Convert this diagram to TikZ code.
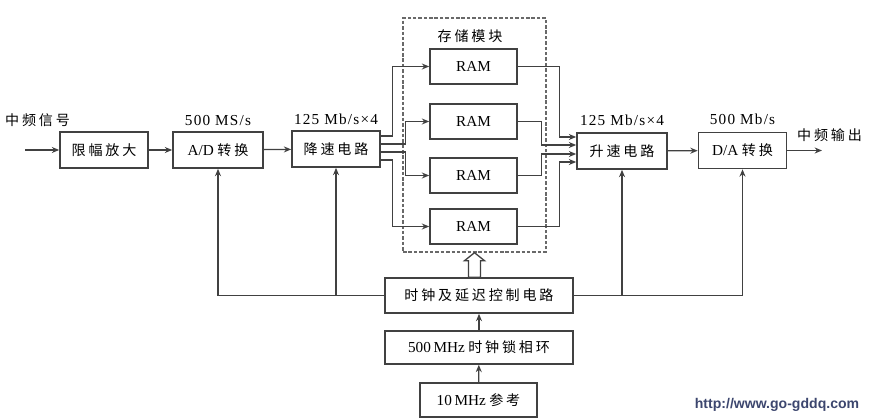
\documentclass[tikz,border=0pt]{standalone}
\usepackage{fontspec}
\setmainfont{Liberation Serif}
\newfontfamily\zh[LetterSpace=20]{Noto Sans CJK SC}
\newfontfamily\spaced[LetterSpace=8]{Liberation Serif}
\newfontfamily\urlfont{Liberation Sans}
\usepackage{tikz}
\usetikzlibrary{positioning, arrows.meta, calc}
\definecolor{linegray}{RGB}{65,65,65}
\definecolor{dashgray}{RGB}{105,105,105}
\definecolor{urlblue}{RGB}{60,70,110}
\newcommand\diagfont{\fontsize{12}{14}\selectfont}
\tikzset{
  wire/.style={draw=linegray, line width=1.1pt},
  sig/.style={wire, -{Stealth[length=2.2mm,width=1.8mm]}},
  rate/.style={font=\spaced\fontsize{13}{15}\selectfont, inner sep=1pt},
  tag/.style={font=\diagfont\zh, inner sep=1pt},
}

\begin{document}
\begin{tikzpicture}[x=0.3mm, y=-0.3mm,
  block/.style={draw=linegray, line width=1.4pt, fill=white, minimum width=26.4mm, minimum height=10.8mm, inner sep=0pt, font=\diagfont},
  ram/.style={block, minimum width=26.1mm, minimum height=10.5mm, font=\fontsize{13}{15}\selectfont},
  >=Stealth
]
  \useasboundingbox (0,0) rectangle (871,420);
  % memory module
  \node[draw=dashgray, line width=1.2pt, dash pattern=on 3pt off 1.6pt, minimum width=42.9mm, minimum height=70.2mm] (mem) at (474.5,135) {};
  \node[tag] (memlbl) at (470,36) {存储模块};
  \node[ram] (ram1) at (473.5,66.5) {RAM};
  \node[ram] (ram2) at (473.5,121.5) {RAM};
  \node[ram] (ram3) at (473.5,175.5) {RAM};
  \node[ram] (ram4) at (473.5,226.5) {RAM};
  % signal chain
  \node[block] (lim) at (104,150) {\zh 限幅放大};
  \node[block, minimum width=27mm] (ad) at (218,150) {{\fontsize{13}{15}\selectfont A/D} {\zh 转换}};
  \node[block] (dn) at (336,149) {\zh 降速电路};
  \node[block, minimum width=27mm] (up) at (622,151) {\zh 升速电路};
  \node[block] (da) at (742.5,150.5) {{\fontsize{13}{15}\selectfont D/A} {\zh 转换}};
  \node[rate, above=1.2mm of ad] (adrate) {500 MS/s};
  \node[rate, above=1.2mm of dn] (dnrate) {125 Mb/s×4};
  \node[rate, above=1.6mm of up] (uprate) {125 Mb/s×4};
  \node[rate, above=1.6mm of da] (darate) {500 Mb/s};
  % clock section
  \node[block, minimum width=56.4mm, minimum height=10.5mm] (clk) at (479,295.5) {\zh 时钟及延迟控制电路};
  \node[block, minimum width=56.4mm, minimum height=9.9mm] (pll) at (479,347.5) {{\fontsize{13}{15}\selectfont 500\,MHz} {\zh 时钟锁相环}};
  \node[block, minimum width=35.1mm, minimum height=10.2mm] (ref) at (478.5,400) {{\fontsize{13}{15}\selectfont 10\,MHz} {\zh 参考}};

  \coordinate (in) at (25,150);
  \node[tag] (inlbl) at (37.5,120) {中频信号};
  \draw[sig] (in) -- (lim);
  \draw[sig] (lim) -- (ad);
  \draw[sig] (ad) -- (dn);
  % fan out to the RAMs
  \draw[sig] ($(dn.east)+(0,-13)$) -- ++(12,0) |- (ram1.west);
  \draw[sig] ($(dn.east)+(0,-5)$) -- ++(25,0) |- (ram2.west);
  \draw[sig] ($(dn.east)+(0,3)$) -- ++(25,0) |- (ram3.west);
  \draw[sig] ($(dn.east)+(0,11)$) -- ++(12,0) |- (ram4.west);
  % fan in
  \draw[sig] (ram1.east) -- ++(42,0) |- ($(up.west)+(0,-14)$);
  \draw[sig] (ram2.east) -- ++(24,0) |- ($(up.west)+(0,-6)$);
  \draw[sig] (ram3.east) -- ++(24,0) |- ($(up.west)+(0,3)$);
  \draw[sig] (ram4.east) -- ++(42,0) |- ($(up.west)+(0,11)$);
  \draw[sig] (up) -- (da);
  \coordinate (out) at (822,150.5);
  \draw[sig] (da) -- (out);
  \node[tag] (outlbl) at (829.5,135) {中频输出};
  % clock distribution
  \draw[sig] (clk.west) -| (ad.south);
  \draw[sig] (clk.west) -| (dn.south);
  \draw[sig] (clk.east) -| (da.south);
  \draw[sig] (clk.east) -| (up.south);
  \draw[sig] (pll) -- (clk);
  \draw[sig] (ref) -- (pll);
  % hollow arrow into the memory module
  \coordinate (tip) at (mem.south);
  \coordinate (base) at (mem.south |- clk.north);
  \draw[wire, fill=white] (tip) -- ($(tip)+(10,8)$) -- ($(tip)+(6,8)$) -- ($(base)+(6,0)$)
    -- ($(base)+(-6,0)$) -- ($(tip)+(-6,8)$) -- ($(tip)+(-10,8)$) -- cycle;

  \node[font=\urlfont\bfseries\fontsize{12}{14}\selectfont, text=urlblue] (url) at (777,405) {http://www.go-gddq.com};
\end{tikzpicture}
\end{document}
